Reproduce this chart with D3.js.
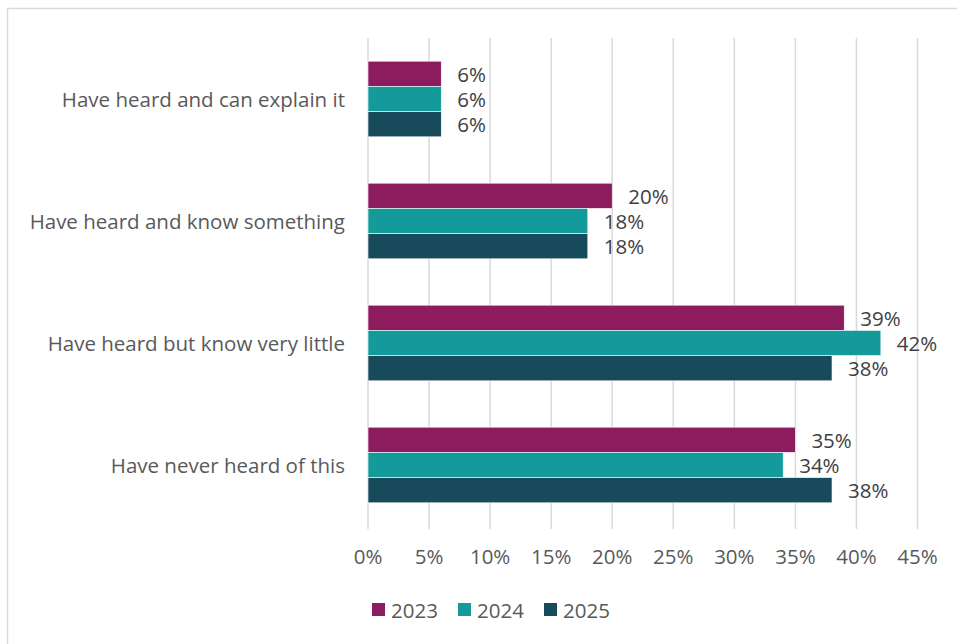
<!DOCTYPE html>
<html>
<head>
<meta charset="utf-8">
<script src="https://cdn.jsdelivr.net/npm/d3@7"></script>
<style>
  body { margin: 0; background: #fff; }
  svg { display: block; font-family: "Open Sans", sans-serif; }
</style>
</head>
<body>
<svg id="chart" width="957" height="644"></svg>
<script>
// data
const categories = [
  "Have heard and can explain it",
  "Have heard and know something",
  "Have heard but know very little",
  "Have never heard of this",
];
const years = ["2023", "2024", "2025"];
const values2023 = [6, 20, 39, 35];
const values2024 = [6, 18, 42, 34];
const values2025 = [6, 18, 38, 38];
const ticks = [0, 5, 10, 15, 20, 25, 30, 35, 40, 45];

const series = [values2023, values2024, values2025];
const colours = ["#8c1c5e", "#149a9a", "#174a5a"];
const textColour = "#595959";
const fontSize = 20.5;

/* layout */
const svg = d3.select("#chart");
const plotLeft = 368, plotRight = 917.5, plotTop = 38, plotBottom = 526;

svg.append("rect")
  .attr("x", 7.5).attr("y", 8.5)
  .attr("width", 960).attr("height", 650)
  .attr("fill", "#fff")
  .attr("stroke", "#d9d9d9")
  .attr("stroke-width", 1.5);

const x = d3.scaleLinear().domain([0, 45]).range([plotLeft, plotRight]);
const y = d3.scaleBand().domain(categories).range([plotTop, plotBottom]).paddingInner(0.38).paddingOuter(0.19);
const yInner = d3.scaleBand().domain(years).range([0, y.bandwidth()]);

/* grid */
svg.append("g")
  .selectAll("line")
  .data(ticks)
  .join("line")
  .attr("x1", d => x(d)).attr("x2", d => x(d))
  .attr("y1", plotTop).attr("y2", plotBottom + 3)
  .attr("stroke", "#d9d9d9")
  .attr("stroke-width", 1.5);

/* x axis labels */
svg.append("g")
  .selectAll("text")
  .data(ticks)
  .join("text")
  .attr("x", d => x(d))
  .attr("y", 556)
  .attr("text-anchor", "middle")
  .attr("dominant-baseline", "central")
  .attr("font-size", fontSize)
  .attr("fill", textColour)
  .text(d => `${d}%`);

/* category labels */
svg.append("g")
  .selectAll("text")
  .data(categories)
  .join("text")
  .attr("x", 345)
  .attr("y", d => y(d) + y.bandwidth() / 2)
  .attr("text-anchor", "end")
  .attr("dominant-baseline", "central")
  .attr("font-size", fontSize)
  .attr("fill", textColour)
  .text(d => d);

/* bars */
years.forEach((year, s) => {
  const g = svg.append("g");
  const rows = categories.map((c, i) => ({ c: c, v: series[s][i] }));
  g.selectAll("rect")
    .data(rows)
    .join("rect")
    .attr("x", x(0))
    .attr("y", d => y(d.c) + yInner(year))
    .attr("width", d => x(d.v) - x(0))
    .attr("height", yInner.bandwidth())
    .attr("fill", colours[s])
    .attr("stroke", "#fff")
    .attr("stroke-width", 0.6);
  g.selectAll("text")
    .data(rows)
    .join("text")
    .attr("x", d => x(d.v) + 16)
    .attr("y", d => y(d.c) + yInner(year) + yInner.bandwidth() / 2)
    .attr("dominant-baseline", "central")
    .attr("font-size", fontSize)
    .attr("fill", "#404040")
    .text(d => `${d.v}%`);
});

/* legend */
const legend = svg.append("g");
const legendX = [372, 458, 544];
years.forEach((year, s) => {
  legend.append("rect")
    .attr("x", legendX[s]).attr("y", 603)
    .attr("width", 13).attr("height", 13)
    .attr("fill", colours[s]);
  legend.append("text")
    .attr("x", legendX[s] + 19)
    .attr("y", 609.5)
    .attr("dominant-baseline", "central")
    .attr("font-size", fontSize)
    .attr("fill", textColour)
    .text(year);
});
</script>
</body>
</html>
